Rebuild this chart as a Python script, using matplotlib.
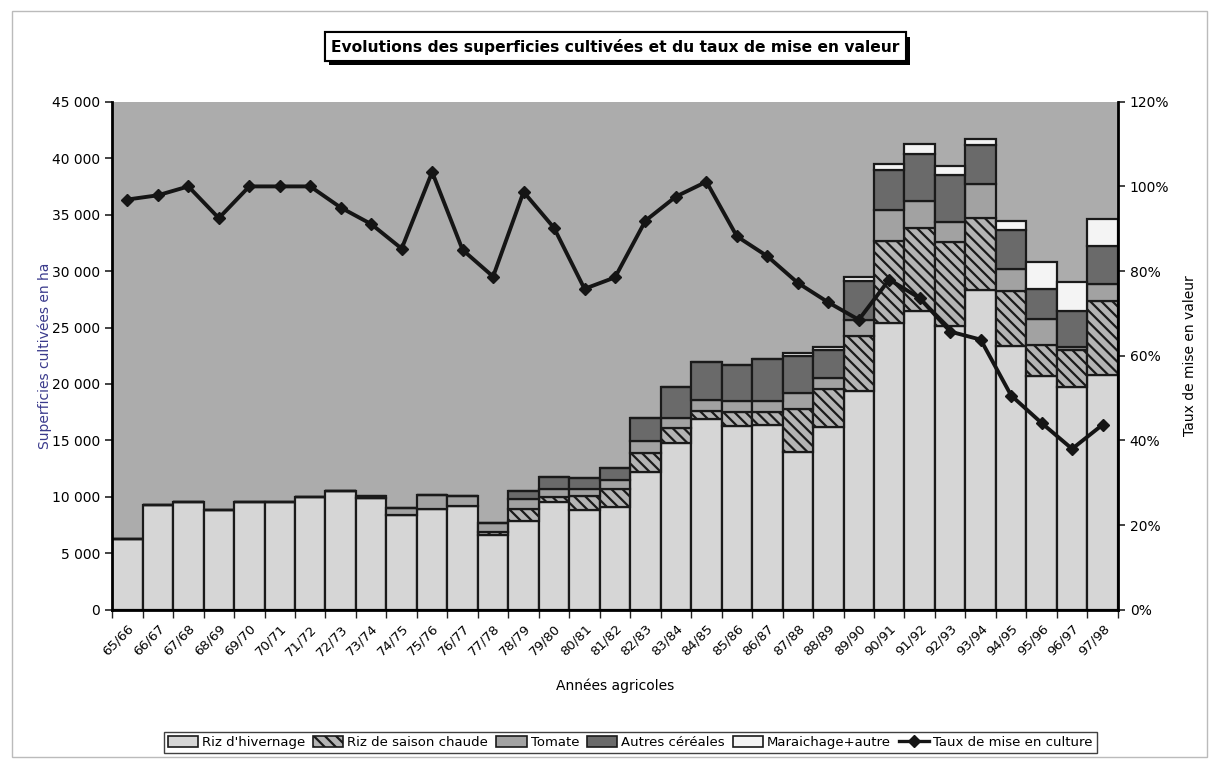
import matplotlib
matplotlib.use("Agg")
from matplotlib import pyplot as plt
from matplotlib.patches import Patch, Rectangle
from matplotlib.lines import Line2D
from matplotlib.ticker import FuncFormatter
import matplotlib.patheffects as pe
import numpy as np

plt.rcParams['font.family'] = ['DejaVu Sans']
plt.rcParams['hatch.linewidth'] = 1.6

years = ['65/66', '66/67', '67/68', '68/69', '69/70', '70/71', '71/72', '72/73',
         '73/74', '74/75', '75/76', '76/77', '77/78', '78/79', '79/80', '80/81',
         '81/82', '82/83', '83/84', '84/85', '85/86', '86/87', '87/88', '88/89',
         '89/90', '90/91', '91/92', '92/93', '93/94', '94/95', '95/96', '96/97',
         '97/98']

# superficies en ha
riz_hiv = [6300, 9300, 9500, 8800, 9500, 9500, 10000, 10500, 9900, 8400, 8900,
           9200, 6600, 7900, 9500, 8800, 9100, 12200, 14800, 16900, 16300, 16400,
           13950, 16200, 19400, 25400, 26500, 25150, 28350, 23400, 20700, 19700,
           20800]
riz_sc = [0, 0, 0, 0, 0, 0, 0, 0, 0, 0, 0, 0, 300, 1000, 500, 1270, 1620, 1690,
          1270, 680, 1190, 1090, 3790, 3310, 4870, 7240, 7340, 7430, 6360, 4840,
          2730, 3300, 6570]
tomate = [0, 0, 0, 0, 0, 0, 0, 0, 0, 650, 1250, 900, 800, 890, 710, 590, 740,
          1090, 950, 980, 1030, 1040, 1420, 1040, 1360, 2810, 2360, 1770, 2960,
          1920, 2300, 300, 1480]
autres = [0, 0, 0, 0, 0, 0, 0, 0, 200, 0, 0, 0, 0, 740, 1090, 1035, 1100, 2010,
          2690, 3370, 3160, 3720, 3350, 2420, 3460, 3460, 4140, 4150, 3490, 3460,
          2660, 3160, 3400]
mara = [0, 0, 0, 0, 0, 0, 0, 0, 0, 0, 0, 0, 0, 0, 0, 0, 0, 0, 0, 0, 0, 0,
        200, 330, 360, 590, 890, 820, 560, 820, 2370, 2600, 2360]

# taux de mise en culture (%)
taux = [96.9, 97.9, 100, 92.5, 100, 100, 100, 95.0, 91.1, 85.3, 103.4, 85.0,
        78.7, 98.7, 90.2, 75.8, 78.5, 91.9, 97.6, 101.1, 88.2, 83.5, 77.2, 72.6,
        68.5, 78.0, 73.6, 65.7, 63.8, 50.6, 44.1, 38.0, 43.7]

series = [
    ("Riz d'hivernage", riz_hiv, dict(facecolor='#d6d6d6')),
    ("Riz de saison chaude", riz_sc, dict(facecolor='#b4b4b4', hatch='\\\\\\')),
    ("Tomate", tomate, dict(facecolor='#a2a2a2')),
    ("Autres céréales", autres, dict(facecolor='#6a6a6a')),
    ("Maraichage+autre", mara, dict(facecolor='#f4f4f4')),
]

fig = plt.figure(figsize=(12.19, 7.65), dpi=100)
fig.patch.set_facecolor('white')
ax = fig.add_axes([0.092, 0.203, 0.825, 0.664])
ax.set_facecolor('#acacac')

x = np.arange(len(years))
bottom = np.zeros(len(years))
handles = []
for name, vals, style in series:
    vals = np.array(vals, dtype=float)
    ax.bar(x, vals, width=1.0, bottom=bottom, edgecolor='#1a1a1a',
           linewidth=1.6, **style)
    bottom += vals
    handles.append(Patch(edgecolor='#1a1a1a', linewidth=1.2, label=name, **style))

ax.set_xlim(-0.5, len(years) - 0.5)
ax.set_ylim(0, 45000)
ax.set_yticks(np.arange(0, 45001, 5000))
ax.yaxis.set_major_formatter(FuncFormatter(lambda v, p: f"{int(v):,}".replace(',', ' ')))
ax.set_xticks(x)
ax.set_xticklabels(years, rotation=45, ha='right', rotation_mode='anchor', fontsize=9.5)
ax.set_xticks(np.arange(-0.5, len(years), 1), minor=True)
ax.tick_params(axis='x', which='major', length=0, pad=9)
ax.tick_params(axis='x', which='minor', length=6, width=1, color='#222222')
ax.tick_params(axis='y', labelsize=10, length=5, width=1.2, color='#222222')
for s in ['top', 'right']:
    ax.spines[s].set_visible(False)
ax.spines['left'].set_linewidth(2)
ax.spines['bottom'].set_linewidth(2)
ax.set_ylabel('Superficies cultivées en ha', color='#3a3a8c', fontsize=10, labelpad=0)
ax.set_xlabel('Années agricoles', fontsize=10, labelpad=14)

ax2 = ax.twinx()
ax2.plot(x, np.array(taux) / 100, color='#151515', linewidth=2.8,
         marker='D', markersize=6)
ax2.set_ylim(0, 1.2)
ax2.set_yticks(np.arange(0, 1.21, 0.2))
ax2.yaxis.set_major_formatter(FuncFormatter(lambda v, p: f"{v*100:.0f}%"))
ax2.tick_params(axis='y', labelsize=10, length=5, width=1.2, color='#222222')
ax2.spines['top'].set_visible(False)
ax2.spines['left'].set_visible(False)
ax2.spines['bottom'].set_visible(False)
ax2.spines['right'].set_linewidth(2)
ax2.set_ylabel('Taux de mise en valeur', fontsize=10, labelpad=10)

handles.append(Line2D([0], [0], color='#151515', linewidth=2.4, marker='D',
                      markersize=6, label='Taux de mise en culture'))
leg = fig.legend(handles=handles, loc='center', bbox_to_anchor=(0.517, 0.029),
                 ncol=6, fontsize=9.5, frameon=True, fancybox=False,
                 handlelength=2.3, handleheight=0.9, handletextpad=0.3,
                 columnspacing=0.6, borderpad=0.3)
leg.get_frame().set_edgecolor('#111111')
leg.get_frame().set_linewidth(1.0)

t = fig.text(0.505, 0.939, 'Evolutions des superficies cultivées et du taux de mise en valeur',
             ha='center', va='center', fontsize=11.2, fontweight='bold',
             bbox=dict(boxstyle='square,pad=0.4', facecolor='white',
                       edgecolor='black', linewidth=1.5))
t.get_bbox_patch().set_path_effects([pe.withSimplePatchShadow(offset=(3, -3),
                                     shadow_rgbFace='black', alpha=1.0), pe.Normal()])

fig.add_artist(Rectangle((0.01, 0.01), 0.98, 0.975, transform=fig.transFigure,
                         fill=False, edgecolor='#bbbbbb', linewidth=1))

fig.savefig('out.png', dpi=100)
